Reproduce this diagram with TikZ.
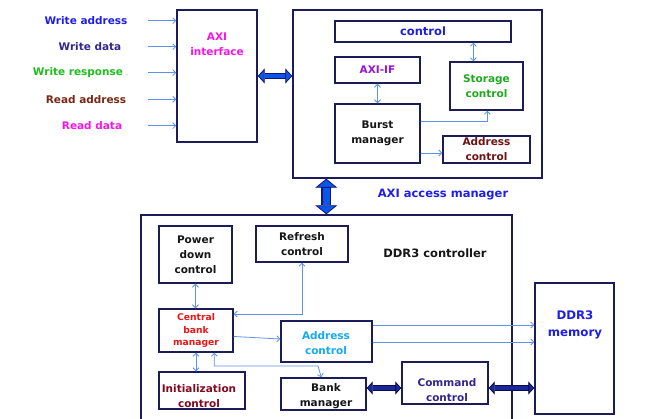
\documentclass[tikz,border=0pt]{standalone}
\usepackage{fontspec}
\setmainfont{DejaVu Sans}
\usetikzlibrary{arrows.meta,calc}

\definecolor{boxline}{RGB}{28,28,88}
\definecolor{wire}{RGB}{95,145,228}
\definecolor{fatfill}{RGB}{10,85,235}
\definecolor{fatline}{RGB}{18,22,110}
\definecolor{busfill}{RGB}{25,40,150}
\definecolor{busline}{RGB}{10,12,80}
\definecolor{cblue}{RGB}{30,30,235}
\definecolor{cindigo}{RGB}{52,38,140}
\definecolor{cgreen}{RGB}{30,190,30}
\definecolor{cbrown}{RGB}{120,40,20}
\definecolor{cmagenta}{RGB}{250,20,230}
\definecolor{cpurple}{RGB}{150,20,220}
\definecolor{cstore}{RGB}{30,170,30}
\definecolor{cmaroon}{RGB}{110,20,20}
\definecolor{cred}{RGB}{240,20,20}
\definecolor{csky}{RGB}{20,170,240}
\definecolor{cwine}{RGB}{130,10,30}
\definecolor{cink}{RGB}{22,22,22}

\tikzset{
  blk/.style={draw=boxline, line width=1.4pt, fill=white, inner sep=0pt,
    align=center, font=\fontsize{10.5}{15}\selectfont\bfseries, text=cink},
  txt/.style={inner sep=0pt, align=center,
    font=\fontsize{10.5}{15}\selectfont\bfseries, text=cink},
  wireto/.style={draw=wire, line width=0.8pt, -{Straight Barb[length=3pt,width=6pt]}},
  wireboth/.style={draw=wire, line width=0.8pt,
    {Straight Barb[length=3pt,width=6pt]}-{Straight Barb[length=3pt,width=6pt]}},
  fatlink/.style n args={3}{draw=fatline, line width=#2,
    {Triangle[length=#3,width=#1,line width=0.8pt,fill=fatfill]}-{Triangle[length=#3,width=#1,line width=0.8pt,fill=fatfill]},
    postaction={draw=fatfill, line width=#2-2.4pt, arrows=-, shorten <=#3, shorten >=#3}},
  fatbus/.style n args={3}{draw=busline, line width=#2,
    {Triangle[length=#3,width=#1,line width=0.8pt,fill=busfill]}-{Triangle[length=#3,width=#1,line width=0.8pt,fill=busfill]},
    postaction={draw=busfill, line width=#2-2.2pt, arrows=-, shorten <=#3, shorten >=#3}},
}

\begin{document}
\begin{tikzpicture}[x=1pt,y=-1pt]
\path[use as bounding box, clip] (0,0) rectangle (650,419);

% ---- AXI side ----
\node[blk, minimum width=80pt, minimum height=132pt] (axi) at (217,76) {};
\node[txt, text=cmagenta] (axit) at (217,44) {AXI\\interface};

\node[txt, text=cblue]    (wa) at (86,20.7)  {Write address};
\node[txt, text=cindigo]  (wd) at (90,46.7)  {Write data};
\node[txt, text=cgreen]   (wr) at (78,72.7)  {Write response};
\node[txt, text=cbrown]   (ra) at (86,99.3)  {Read address};
\node[txt, text=cmagenta] (rd) at (92,125.7) {Read data};

\coordinate (in1) at (148,20.7);
\coordinate (in2) at (148,46.7);
\coordinate (in3) at (148,72.7);
\coordinate (in4) at (148,99.3);
\coordinate (in5) at (148,125.7);
\foreach \i in {1,...,5}
  \draw[wireto] (in\i) -- (in\i -| axi.west);

% ---- AXI access manager ----
\node[blk, minimum width=249pt, minimum height=168pt] (mgr) at (417.5,94) {};
\node[blk, minimum width=176pt, minimum height=21pt, text=cblue,
      font=\fontsize{11.5}{15}\selectfont\bfseries] (ctl) at (423,31.5) {control};
\node[blk, minimum width=85pt, minimum height=26pt, text=cpurple] (axiif) at (377.5,70) {AXI-IF};
\node[blk, minimum width=73pt, minimum height=48pt, text=cstore] (stor) at (486.5,86) {Storage\\control};
\node[blk, minimum width=85pt, minimum height=59pt] (burst) at (377.5,133.5) {Burst\\manager};
\node[blk, minimum width=87pt, minimum height=27pt, text=cmaroon] (addra) at (486.5,149.5) {Address\\control};
\node[txt, text=cblue, font=\fontsize{11.5}{14}\selectfont\bfseries] (mgrt) at (443,195) {AXI access manager};

\coordinate (sc) at ($(stor.north west)+(24,0)$);
\draw[wireboth] (sc |- ctl.south) -- (sc);
\draw[wireboth] (axiif.south) -- (axiif.south |- burst.north);
\coordinate (bs) at ($(stor.south west)+(38,0)$);
\draw[wireto] ($(burst.east)+(0,-12.5)$) -| (bs);
\draw[wireto] ($(burst.east)+(0,19.5)$) -- ($(burst.east -| addra.west)+(0,19.5)$);

% ---- DDR3 controller ----
\node[blk, fill=none, minimum width=371pt, minimum height=206pt] (ddrc) at (326.5,318) {};
\node[txt, font=\fontsize{11.5}{14}\selectfont\bfseries] (ddrct) at (435,253) {DDR3 controller};

\node[blk, minimum width=73pt, minimum height=57pt] (pwr) at (195.5,254.5) {Power\\down\\control};
\node[blk, minimum width=92pt, minimum height=36pt] (ref) at (302,244) {Refresh\\control};
\node[blk, minimum width=74pt, minimum height=43pt, text=cred,
      font=\fontsize{9.2}{12.5}\selectfont\bfseries] (cbm) at (196,330.5) {Central\\bank\\manager};
\node[blk, minimum width=91pt, minimum height=41pt] (addrb) at (326.5,341.5) {};
\node[txt, text=csky] (addrbt) at (326,343) {Address\\control};
\node[blk, minimum width=86pt, minimum height=37pt] (init) at (202,390.5) {};
\node[txt, text=cwine] (initt) at (199,396) {Initialization\\control};
\node[blk, minimum width=85pt, minimum height=32pt] (bank) at (323.5,394) {};
\node[txt] (bankt) at (326,396) {Bank\\manager};
\node[blk, minimum width=86pt, minimum height=42pt] (cmd) at (445,383) {};
\node[txt, text=cindigo] (cmdt) at (447,390.5) {Command\\control};

% ---- DDR3 memory ----
\node[blk, minimum width=79pt, minimum height=131pt] (mem) at (574.5,348.5) {};
\node[txt, text=cblue, font=\fontsize{11.8}{17}\selectfont\bfseries] (memt) at (575,325) {DDR3\\memory};

% ---- thin control wires ----
\draw[wireboth] (pwr.south) -- (pwr.south |- cbm.north);
\draw[wireboth] (cbm.south) -- (cbm.south |- init.north);
\draw[wireboth] (ref.south) |- ($(cbm.east)+(0,-16.5)$);
\draw[wireto] ($(cbm.east)+(0,6)$) -- ($(addrb.west)+(0,-2.5)$);
\coordinate (bk) at (318,366);
\draw[wireboth] ($(cbm.south west)+(56,0)$) |- (bk) -- ($(bank.north west)+(41,0)$);
\draw[wireto] ($(addrb.east)+(0,-16.5)$) -- ($(addrb.east -| mem.west)+(0,-16.5)$);
\draw[wireto] ($(addrb.east)+(0,0.5)$) -- ($(addrb.east -| mem.west)+(0,0.5)$);

% ---- wide buses ----
\draw[fatlink={15pt}{6.5pt}{7pt}] (axi.east) -- (axi.east -| mgr.west);
\coordinate (vb) at ($(mgr.south west)+(34,0)$);
\draw[fatlink={22pt}{10pt}{9pt}] (vb) -- (vb |- ddrc.north);
\draw[fatbus={13pt}{5.5pt}{6pt}] ($(bank.east)+(0,-6)$) -- ($(bank.east -| cmd.west)+(0,-6)$);
\draw[fatbus={13pt}{5.5pt}{6pt}] ($(cmd.east)+(0,5)$) -- ($(cmd.east -| mem.west)+(0,5)$);
\end{tikzpicture}
\end{document}
